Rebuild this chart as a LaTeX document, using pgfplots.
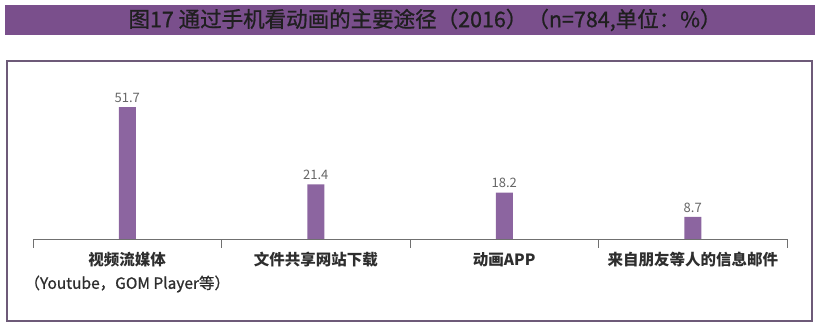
\documentclass[border=0pt]{standalone}
\usepackage{pgfplots}
\pgfplotsset{compat=1.18}
\usepackage{fontspec}
\setmainfont{Noto Sans CJK SC}
\newfontfamily\medfont[FakeBold=0.9]{Noto Sans CJK SC}
\definecolor{banner}{HTML}{7A4F8C}
\definecolor{barc}{HTML}{8C65A0}
\definecolor{framec}{HTML}{6D5A78}
\definecolor{axisgray}{HTML}{707070}
\begin{document}
\begin{tikzpicture}[x=1pt,y=1pt]
\useasboundingbox (0,0) rectangle (820,326);
\fill[banner] (5,291) rectangle (815,321);
\node[text=black!88, font=\fontsize{21.5}{24}\medfont] at (425,306) {图17 通过手机看动画的主要途径（2016）（n=784,单位：\%）};
\draw[framec, line width=2pt] (7,5) rectangle (812,265);
\begin{axis}[
  at={(33pt,87pt)}, anchor=south west,
  scale only axis, width=754pt, height=153pt,
  xmin=0, xmax=4, ymin=0, ymax=60,
  axis x line*=bottom, axis y line=none,
  x axis line style={axisgray, line width=0.8pt, -},
  xtick={0.5,1.5,2.5,3.5},
  xticklabels={{\bfseries 视频流媒体\\\medfont（Youtube，GOM Player等）},{\bfseries 文件共享网站下载},{\bfseries 动画APP},{\bfseries 来自朋友等人的信息邮件}},
  major tick length=0pt,
  minor xtick={0,1,2,3,4},
  minor tick length=9pt,
  tick align=center,
  minor tick style={axisgray, line width=0.8pt},
  ytick=\empty,
  xticklabel style={font=\fontsize{15.5}{23}\selectfont, text=black!82, align=center, anchor=north, yshift=-10pt},
  ybar, bar width=17pt,
  clip=false,
  /pgf/number format/assume math mode=true,
  nodes near coords,
  nodes near coords style={font=\fontsize{13}{15}\selectfont, text=black!60, /pgf/number format/fixed, /pgf/number format/precision=1, yshift=1pt},
]
\addplot[fill=barc, draw=none] coordinates {(0.5,51.7) (1.5,21.4) (2.5,18.2) (3.5,8.7)};
\end{axis}
\end{tikzpicture}
\end{document}
